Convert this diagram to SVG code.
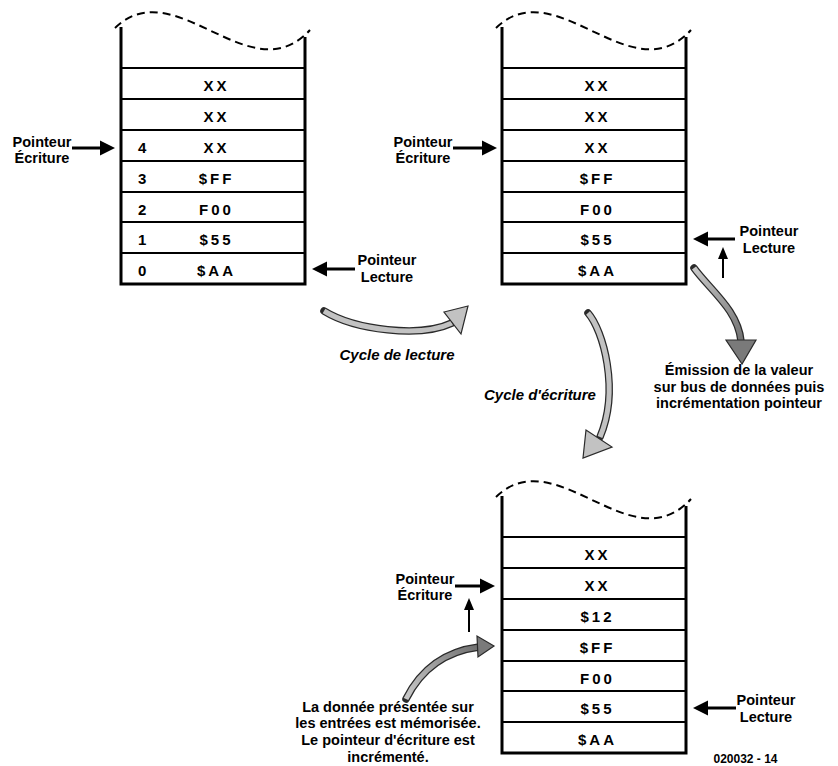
<svg xmlns="http://www.w3.org/2000/svg" width="838" height="766" viewBox="0 0 838 766">
  <style>
    .wall { stroke: #000; stroke-width: 3; fill: none; }
    .sep { stroke: #000; stroke-width: 2; fill: none; }
    .wave { stroke: #000; stroke-width: 2; fill: none; stroke-dasharray: 8 5; }
    .val { font-family: "Liberation Sans", Arial, sans-serif; font-weight: bold; font-size: 15px; letter-spacing: 3px; text-anchor: middle; fill: #000; }
    .idx { font-family: "Liberation Sans", Arial, sans-serif; font-weight: bold; font-size: 15px; fill: #000; }
    .lbl { font-family: "Liberation Sans", Arial, sans-serif; font-weight: bold; font-size: 14.5px; text-anchor: middle; fill: #000; }
    .cyc { font-family: "Liberation Sans", Arial, sans-serif; font-weight: bold; font-style: italic; font-size: 15px; text-anchor: middle; fill: #000; }
    .ref { font-family: "Liberation Sans", Arial, sans-serif; font-weight: bold; font-size: 12px; text-anchor: middle; fill: #000; }
    .ptr { stroke: #000; stroke-width: 3; fill: none; marker-end: url(#head); }
    .up { stroke: #000; stroke-width: 2; fill: none; marker-end: url(#headSmall); }
    .bodyOut { fill: none; stroke: #2a2a2a; stroke-width: 7.5; stroke-linecap: round; }
    .bodyLight { fill: none; stroke: #c2c2c2; stroke-width: 5; }
    .headLight { fill: #c2c2c2; stroke: #2a2a2a; stroke-width: 1.2; stroke-linejoin: miter; }
    .headDark { fill: #7a7a7a; stroke: #2a2a2a; stroke-width: 1.2; stroke-linejoin: miter; }
  </style>
  <defs>
    <marker id="head" viewBox="0 -8 16 16" refX="0" refY="0" markerWidth="16" markerHeight="16" markerUnits="userSpaceOnUse" orient="auto">
      <path d="M0,-7.5 L15,0 L0,7.5 Z" fill="#000"/>
    </marker>
    <marker id="headSmall" viewBox="0 -6 13 12" refX="0" refY="0" markerWidth="13" markerHeight="12" markerUnits="userSpaceOnUse" orient="auto">
      <path d="M0,-5 L12,0 L0,5 Z" fill="#000"/>
    </marker>
    <linearGradient id="gradEmit" gradientUnits="userSpaceOnUse" x1="694" y1="268" x2="741" y2="345">
      <stop offset="0" stop-color="#c8c8c8"/>
      <stop offset="1" stop-color="#6e6e6e"/>
    </linearGradient>
    <linearGradient id="gradStore" gradientUnits="userSpaceOnUse" x1="406" y1="699" x2="480" y2="647">
      <stop offset="0" stop-color="#c8c8c8"/>
      <stop offset="1" stop-color="#6e6e6e"/>
    </linearGradient>
    <!-- open-topped FIFO column, 7 cells -->
    <g id="column">
      <path class="wave" d="M115,28 C175,-30 250,95 310,30"/>
      <path class="wall" d="M121,27 V284 H305 V37"/>
      <path class="sep" d="M121,68 H305 M121,99 H305 M121,130 H305 M121,161 H305 M121,192 H305 M121,222 H305 M121,253 H305"/>
    </g>
  </defs>

  <!-- FIFO state 1 -->
  <g id="fifo-1">
    <use href="#column"/>
    <text class="val" x="216.5" y="90.5">XX</text>
    <text class="val" x="216.5" y="121.5">XX</text>
    <text class="val" x="216.5" y="152.5">XX</text>
    <text class="val" x="216.5" y="183.5">$FF</text>
    <text class="val" x="216.5" y="214.5">F00</text>
    <text class="val" x="216.5" y="244.5">$55</text>
    <text class="val" x="216.5" y="275.5">$AA</text>
    <text class="idx" x="138" y="152.5">4</text>
    <text class="idx" x="138" y="183.5">3</text>
    <text class="idx" x="138" y="214.5">2</text>
    <text class="idx" x="138" y="244.5">1</text>
    <text class="idx" x="138" y="275.5">0</text>
  </g>

  <!-- FIFO state 2 -->
  <g id="fifo-2" transform="translate(381,0)">
    <use href="#column"/>
    <text class="val" x="216.5" y="90.5">XX</text>
    <text class="val" x="216.5" y="121.5">XX</text>
    <text class="val" x="216.5" y="152.5">XX</text>
    <text class="val" x="216.5" y="183.5">$FF</text>
    <text class="val" x="216.5" y="214.5">F00</text>
    <text class="val" x="216.5" y="244.5">$55</text>
    <text class="val" x="216.5" y="275.5">$AA</text>
  </g>

  <!-- FIFO state 3 -->
  <g id="fifo-3" transform="translate(381,469)">
    <use href="#column"/>
    <text class="val" x="216.5" y="90.5">XX</text>
    <text class="val" x="216.5" y="121.5">XX</text>
    <text class="val" x="216.5" y="152.5">$12</text>
    <text class="val" x="216.5" y="183.5">$FF</text>
    <text class="val" x="216.5" y="214.5">F00</text>
    <text class="val" x="216.5" y="244.5">$55</text>
    <text class="val" x="216.5" y="275.5">$AA</text>
  </g>

  <!-- pointer labels -->
  <g id="write-ptr-1">
    <text class="lbl" x="42" y="147">Pointeur</text>
    <text class="lbl" x="42" y="163">Écriture</text>
  </g>
  <g id="read-ptr-1">
    <text class="lbl" x="387" y="265">Pointeur</text>
    <text class="lbl" x="387" y="282">Lecture</text>
  </g>
  <g id="write-ptr-2">
    <text class="lbl" x="423" y="147">Pointeur</text>
    <text class="lbl" x="423" y="163">Écriture</text>
  </g>
  <g id="read-ptr-2">
    <text class="lbl" x="769" y="236">Pointeur</text>
    <text class="lbl" x="769" y="253">Lecture</text>
  </g>
  <g id="write-ptr-3">
    <text class="lbl" x="425" y="584">Pointeur</text>
    <text class="lbl" x="425" y="600">Écriture</text>
  </g>
  <g id="read-ptr-3">
    <text class="lbl" x="766" y="705">Pointeur</text>
    <text class="lbl" x="766" y="722">Lecture</text>
  </g>

  <!-- captions -->
  <g id="read-cycle-label">
    <text class="cyc" x="397" y="360">Cycle de lecture</text>
  </g>
  <g id="write-cycle-label">
    <text class="cyc" x="540" y="400">Cycle d'écriture</text>
  </g>
  <g id="emit-note">
    <text class="lbl" x="739" y="375">Émission de la valeur</text>
    <text class="lbl" x="739" y="391.5">sur bus de données puis</text>
    <text class="lbl" x="739" y="408">incrémentation pointeur</text>
  </g>
  <g id="store-note">
    <text class="lbl" x="388" y="711.5">La donnée présentée sur</text>
    <text class="lbl" x="388" y="728">les entrées est mémorisée.</text>
    <text class="lbl" x="388" y="745">Le pointeur d'écriture est</text>
    <text class="lbl" x="388" y="761.5">incrémenté.</text>
  </g>
  <g id="ref-code">
    <text class="ref" x="745.5" y="763">020032 - 14</text>
  </g>

  <!-- connectors -->
  <g id="connectors">
    <!-- straight pointer arrows -->
    <path class="ptr" d="M72,148 H100"/>
    <path class="ptr" d="M355,269 H327"/>
    <path class="ptr" d="M453,148 H482"/>
    <path class="ptr" d="M735,239 H708"/>
    <path class="ptr" d="M455,586 H480"/>
    <path class="ptr" d="M736,708 H708"/>
    <path class="up" d="M723,278 V259"/>
    <path class="up" d="M469,632 V610"/>

    <!-- read cycle -->
    <path class="bodyOut" d="M324,311 C355,330 420,338 452,323"/>
    <path class="bodyLight" d="M324,311 C355,330 420,338 452,323"/>
    <path class="headLight" d="M468,306 L444,312 L461,334 Z"/>

    <!-- write cycle -->
    <path class="bodyOut" d="M588,313 C603,330 620,390 600,437"/>
    <path class="bodyLight" d="M588,313 C603,330 620,390 600,437"/>
    <path class="headLight" d="M583,458 L586,430 L612,447 Z"/>

    <!-- value output -->
    <path class="bodyOut" d="M694,268 C710,290 738,310 741,341"/>
    <path fill="none" stroke="url(#gradEmit)" stroke-width="5" d="M694,268 C710,290 738,310 741,341"/>
    <path class="headDark" d="M742,364 L726,340 L756,340 Z"/>

    <!-- data stored -->
    <path class="bodyOut" d="M406,699 C418,675 440,652 479,647"/>
    <path fill="none" stroke="url(#gradStore)" stroke-width="5" d="M406,699 C418,675 440,652 479,647"/>
    <path class="headDark" d="M494,646 L477,636 L478,657 Z"/>
  </g>
</svg>
